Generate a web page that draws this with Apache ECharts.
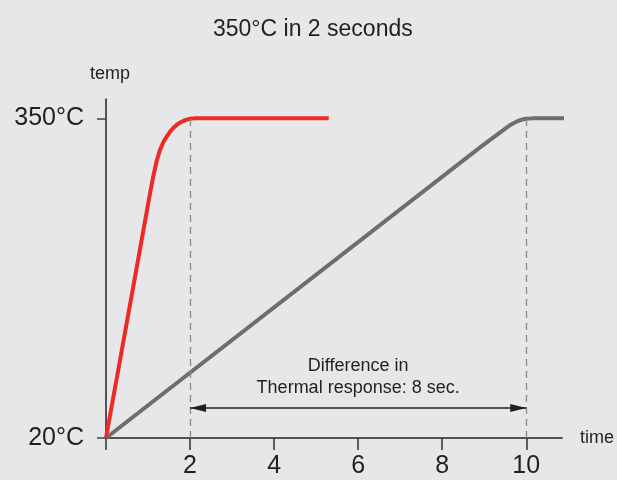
<!DOCTYPE html>
<html>
<head>
<meta charset="utf-8">
<script src="https://cdn.jsdelivr.net/npm/echarts@6/dist/echarts.min.js"></script>
<style>
html,body{margin:0;padding:0;background:#e6e7e8;}
#chart{width:617px;height:480px;}
</style>
</head>
<body>
<div id="chart"></div>
<script>
// ---- data ----
const titleText = '350°C in 2 seconds';
const xTickValues = [0, 2, 4, 6, 8, 10];
const xLabelValues = [2, 4, 6, 8, 10];
const yLabelValues = [20, 350];
const yLabelText = {20: '20°C', 350: '350°C'};
const redTime = [0, 1.05, 1.12, 1.20, 1.28, 1.36, 1.44, 1.52, 1.60, 1.70, 1.80, 1.90, 2.0, 2.1, 5.3];
const redTemp = [20, 273, 289, 305, 317, 325, 331, 336, 340, 344, 346.5, 348.5, 349.6, 350, 350];
const greyTime = [0, 8.9, 9.1, 9.3, 9.5, 9.65, 9.8, 9.9, 10.0, 10.15, 11.07];
const greyTemp = [20, 320, 326.5, 333, 339.5, 344, 347.3, 348.8, 349.6, 350, 350];
const markTimes = [2, 10];
const markTemp = 350;
const arrowTemp = 51;
const annotation = 'Difference in\nThermal response: 8 sec.';

const FONT = '"Liberation Sans", Arial, Helvetica, sans-serif';
const TXT = '#231f20';

const zip = (a, b) => a.map((v, i) => [v, b[i]]);

const chart = echarts.init(document.getElementById('chart'));

const dashStyle = {color: '#8a8a8a', width: 1.3, type: [7, 5]};

const markData = markTimes.map(t => [
  {coord: [t, 20], symbol: 'none', lineStyle: dashStyle, label: {show: false}},
  {coord: [t, markTemp], symbol: 'none'}
]);
markData.push([
  {coord: [markTimes[0], arrowTemp], symbol: 'triangle', symbolSize: [8, 16], symbolOffset: [0, 8],
   lineStyle: {color: TXT, width: 1.5, type: 'solid'},
   label: {show: true, position: 'middle', formatter: annotation, fontSize: 18,
           lineHeight: 22, color: TXT, fontFamily: FONT, distance: 9}},
  {coord: [markTimes[1], arrowTemp], symbol: 'triangle', symbolSize: [8, 16], symbolOffset: [0, 8]}
]);

chart.setOption({
  animation: false,
  backgroundColor: '#e6e7e8',
  textStyle: {fontFamily: FONT},
  title: {
    text: titleText, left: 208, top: 13,
    textStyle: {fontSize: 23, fontWeight: 'normal', color: TXT, fontFamily: FONT}
  },
  grid: {left: 106, top: 99, width: 458, height: 339},
  xAxis: {
    type: 'value', min: 0, max: 10.85,
    name: 'time', nameLocation: 'end', nameGap: 18,
    nameTextStyle: {fontSize: 18, color: TXT, fontFamily: FONT},
    axisLine: {show: true, lineStyle: {color: TXT, width: 1.5}},
    axisTick: {show: true, length: 12, customValues: xTickValues, lineStyle: {color: '#333', width: 1.5}},
    axisLabel: {customValues: xLabelValues, fontSize: 25, color: TXT, margin: 16, fontFamily: FONT},
    splitLine: {show: false}
  },
  yAxis: {
    type: 'value', min: 20, max: 370,
    name: 'temp', nameLocation: 'end', nameGap: 16,
    nameTextStyle: {fontSize: 18, color: TXT, fontFamily: FONT, padding: [0, 0, 0, 8]},
    axisLine: {show: true, lineStyle: {color: TXT, width: 1.5}},
    axisTick: {show: true, length: 9, customValues: yLabelValues, lineStyle: {color: '#444', width: 1.5}},
    axisLabel: {customValues: yLabelValues, fontSize: 25, color: TXT, margin: 22, fontFamily: FONT,
                formatter: v => yLabelText[v] || ''},
    splitLine: {show: false}
  },
  series: [
    {
      type: 'line', data: zip(greyTime, greyTemp), showSymbol: false, symbol: 'none',
      smooth: false, clip: false,
      lineStyle: {color: '#6d6e70', width: 4, join: 'round', cap: 'butt'},
      markLine: {silent: true, animation: false, symbol: ['none', 'none'], data: markData}
    },
    {
      type: 'line', data: zip(redTime, redTemp), showSymbol: false, symbol: 'none',
      smooth: false, clip: false,
      lineStyle: {color: '#ee2a24', width: 4, join: 'round', cap: 'butt'}
    }
  ]
});
</script>
</body>
</html>
